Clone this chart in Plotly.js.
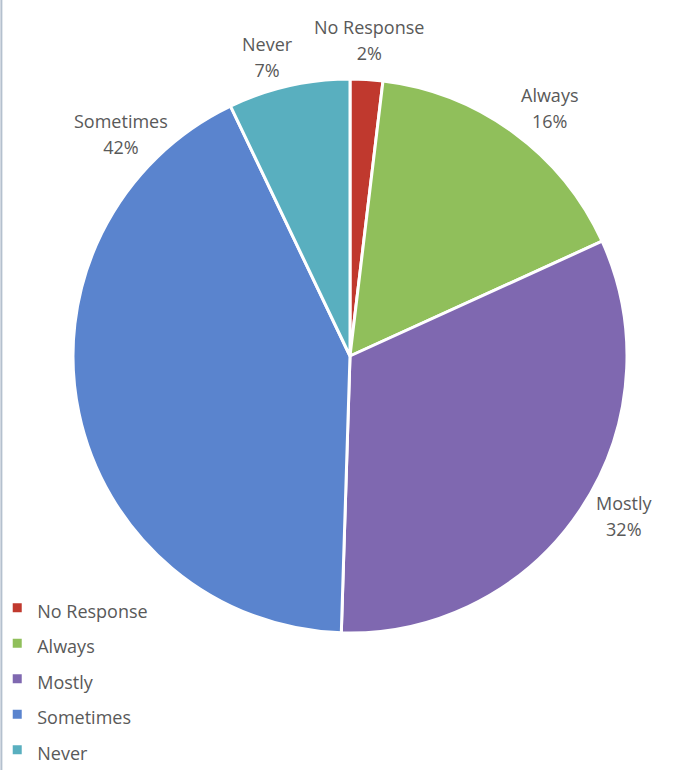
<!DOCTYPE html>
<html>
<head>
<meta charset="utf-8">
<script src="https://cdn.plot.ly/plotly-3.0.1.min.js"></script>
<style>html,body{margin:0;padding:0;background:#fff;}#chart{width:692px;height:770px;}</style>
</head>
<body>
<div id="chart"></div>
<script>
const labels = ["No Response", "Always", "Mostly", "Sometimes", "Never"];
const values = [1.9, 16.3, 32.3, 42.4, 7.1];
const colors = ["#C0392E", "#90BF5B", "#7F68B0", "#5A84CE", "#59AFBF"];

// layout helpers (pixels)
const W = 692, H = 770;
const cx = 350, cy = 356, R = 277;
const labelR = 317;
// Excel "best fit" moved this label off its slice's mid-angle
const labelBearingOverride = { "Sometimes": 314.4 };
// small pixel nudges mimicking Excel's label box placement
const labelNudge = {
  "Always": [12, 8],
  "Mostly": [11, -16],
  "Sometimes": [-3, 0],
  "Never": [-12, 10]
};
const FONT = "Open Sans, sans-serif";
const TXT = "#595959";

const total = values.reduce((a, b) => a + b, 0);
let cum = 0;
const annotations = [];
labels.forEach((lab, i) => {
  const frac = values[i] / total;
  let bearing = (cum + frac / 2) * 360;
  cum += frac;
  if (labelBearingOverride[lab] !== undefined) bearing = labelBearingOverride[lab];
  const rad = bearing * Math.PI / 180;
  const nudge = labelNudge[lab] || [0, 0];
  const px = cx + labelR * Math.sin(rad) + nudge[0];
  const py = cy - labelR * Math.cos(rad) + nudge[1];
  annotations.push({
    xref: "paper", yref: "paper",
    x: px / W, y: 1 - py / H,
    xanchor: "center", yanchor: "middle",
    showarrow: false, align: "center",
    text: '<span style="font-size:18px">' + lab + '</span><br><span style="font-size:18px">' +
          Math.round(frac * 100) + '%</span>',
    font: { family: FONT, size: 20, color: TXT }
  });
});

const trace = {
  type: "pie",
  labels: labels.map(l => '<span style="font-size:18px">' + l + '</span>'),
  values: values,
  sort: false,
  direction: "clockwise",
  rotation: 0,
  marker: { colors: colors, line: { color: "#FFFFFF", width: 3 } },
  textinfo: "none",
  hoverinfo: "label+percent",
  domain: { x: [(cx - R) / W, (cx + R) / W], y: [1 - (cy + R) / H, 1 - (cy - R) / H] }
};

const layout = {
  width: W,
  height: H,
  margin: { l: 0, r: 0, t: 0, b: 0, autoexpand: false },
  paper_bgcolor: "#FFFFFF",
  showlegend: true,
  legend: {
    x: -0.004, y: 1 - 585 / H, xanchor: "left", yanchor: "top",
    font: { family: FONT, size: 25, color: TXT },
    bgcolor: "rgba(0,0,0,0)"
  },
  annotations: annotations,
  shapes: [
    { type: "line", xref: "paper", yref: "paper", x0: 0.002, x1: 0.002, y0: 0, y1: 1,
      line: { color: "#B4C0CE", width: 2 } }
  ]
};

Plotly.newPlot("chart", [trace], layout, { displayModeBar: false, staticPlot: true });
</script>
</body>
</html>
